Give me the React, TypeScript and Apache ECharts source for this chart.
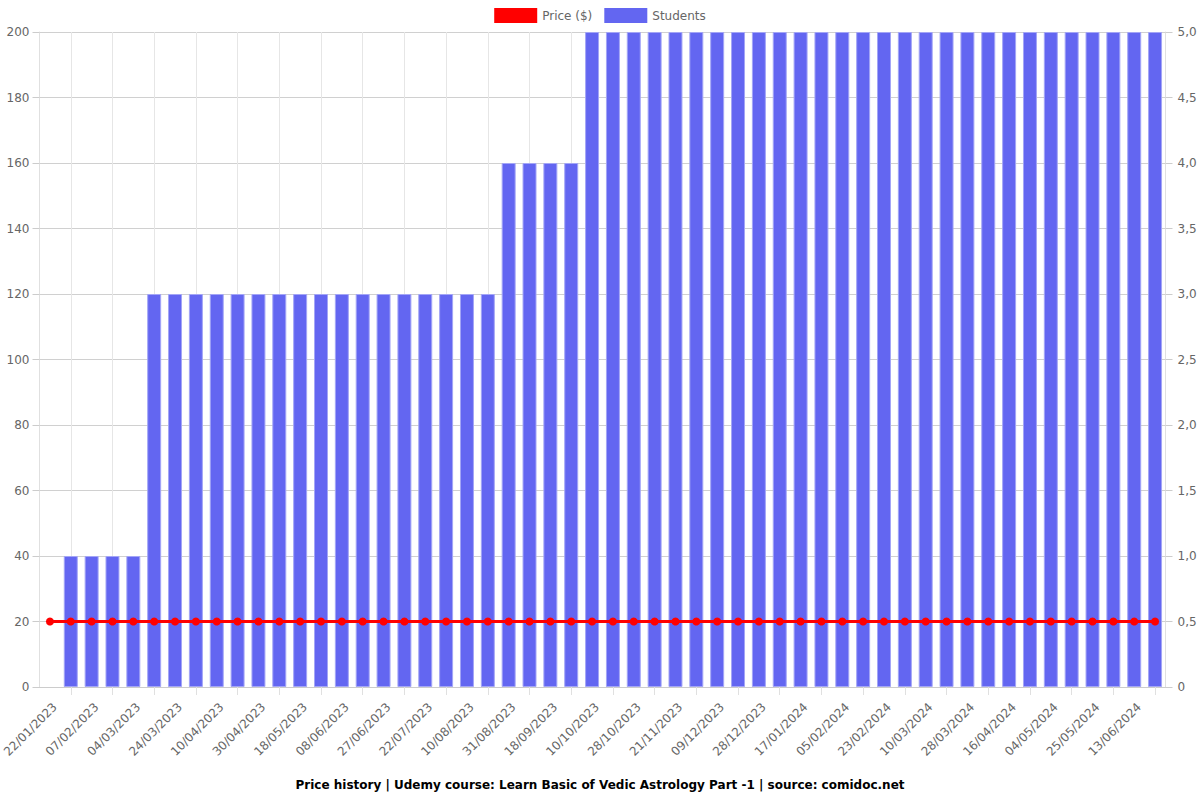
import React, { useEffect, useRef } from "react";
import * as echarts from "echarts";

const dates: string[] = [
  "22/01/2023", "30/01/2023", "07/02/2023", "20/02/2023", "04/03/2023", "14/03/2023",
  "24/03/2023", "01/04/2023", "10/04/2023", "20/04/2023", "30/04/2023", "09/05/2023",
  "18/05/2023", "28/05/2023", "08/06/2023", "17/06/2023", "27/06/2023", "09/07/2023",
  "22/07/2023", "01/08/2023", "10/08/2023", "20/08/2023", "31/08/2023", "09/09/2023",
  "18/09/2023", "29/09/2023", "10/10/2023", "19/10/2023", "28/10/2023", "09/11/2023",
  "21/11/2023", "30/11/2023", "09/12/2023", "18/12/2023", "28/12/2023", "07/01/2024",
  "17/01/2024", "26/01/2024", "05/02/2024", "14/02/2024", "23/02/2024", "02/03/2024",
  "10/03/2024", "19/03/2024", "28/03/2024", "06/04/2024", "16/04/2024", "25/04/2024",
  "04/05/2024", "14/05/2024", "25/05/2024", "03/06/2024", "13/06/2024", "22/06/2024",
];

const students: (number | null)[] = [
  null, 40, 40, 40, 40,
  120, 120, 120, 120, 120, 120, 120, 120, 120, 120, 120, 120, 120, 120, 120, 120, 120,
  160, 160, 160, 160,
  200, 200, 200, 200, 200, 200, 200, 200, 200, 200, 200, 200, 200, 200,
  200, 200, 200, 200, 200, 200, 200, 200, 200, 200, 200, 200, 200, 200,
];

const price: number[] = [
  20, 20, 20, 20, 20, 20, 20, 20, 20, 20, 20, 20, 20, 20, 20, 20, 20, 20,
  20, 20, 20, 20, 20, 20, 20, 20, 20, 20, 20, 20, 20, 20, 20, 20, 20, 20,
  20, 20, 20, 20, 20, 20, 20, 20, 20, 20, 20, 20, 20, 20, 20, 20, 20, 20,
];

const FONT = "DejaVu Sans";

export default function App() {
  const ref = useRef<HTMLDivElement>(null);
  useEffect(() => {
    if (!ref.current) return;
    const chart = echarts.init(ref.current, undefined, { renderer: "svg" });
    const odd = (i: number) => i % 2 === 1;
    chart.setOption({
      animation: false,
      textStyle: { fontFamily: FONT },
      title: {
        text: "Price history | Udemy course: Learn Basic of Vedic Astrology Part -1 | source: comidoc.net",
        left: "center",
        bottom: 4,
        textStyle: { fontSize: 12, fontWeight: "bold", color: "#000", fontFamily: FONT },
      },
      legend: {
        top: 8,
        left: "center",
        itemWidth: 43,
        itemHeight: 15,
        itemGap: 12,
        icon: "rect",
        padding: 0,
        textStyle: { fontSize: 12, color: "#666", fontFamily: FONT },
        data: [
          { name: "Price ($)", itemStyle: { color: "#ff0000", borderWidth: 0 } },
          { name: "Students", itemStyle: { color: "#6366f1", borderWidth: 0 } },
        ],
      },
      grid: {
        left: 39.5,
        right: 34.5,
        top: 32,
        bottom: 113,
        containLabel: false,
        outerBoundsMode: "none",
      },
      xAxis: {
        type: "category",
        data: dates,
        boundaryGap: true,
        axisLine: { show: true, lineStyle: { color: "#ccc" } },
        axisTick: { show: true, alignWithLabel: true, interval: odd, length: 8, lineStyle: { color: "#e0e0e0" } },
        splitLine: { show: true, interval: odd, alignWithLabel: true, lineStyle: { color: "#e6e6e6" } },
        axisLabel: {
          interval: 1,
          rotate: 45,
          fontSize: 12,
          color: "#666",
          margin: 13,
          verticalAlign: "top",
          padding: [1, 0, 0, 0],
          fontFamily: FONT,
        },
      },
      yAxis: [
        {
          type: "value",
          min: 0,
          max: 200,
          interval: 20,
          axisLine: { show: true, lineStyle: { color: "#e0e0e0" } },
          axisTick: { show: true, length: 7, lineStyle: { color: "#ccc" } },
          splitLine: { show: true, lineStyle: { color: "#d0d0d0" } },
          axisLabel: { fontSize: 12, color: "#666", margin: 10, fontFamily: FONT },
        },
        {
          type: "value",
          min: 0,
          max: 5,
          interval: 0.5,
          position: "right",
          axisLine: { show: true, lineStyle: { color: "#e0e0e0" } },
          axisTick: { show: true, length: 7, lineStyle: { color: "#ccc" } },
          splitLine: { show: false },
          axisLabel: {
            fontSize: 12,
            color: "#666",
            margin: 12,
            fontFamily: FONT,
            formatter: (v: number) => (v === 0 ? "0" : v.toFixed(1).replace(".", ",")),
          },
        },
      ],
      series: [
        {
          name: "Students",
          type: "bar",
          yAxisIndex: 0,
          data: students,
          barCategoryGap: "33%",
          itemStyle: { color: "#6366f1", borderColor: "#a3a5f6", borderWidth: 1 },
          z: 2,
        },
        {
          name: "Price ($)",
          type: "line",
          yAxisIndex: 0,
          data: price,
          symbol: "circle",
          symbolSize: 8,
          lineStyle: { color: "#ff0000", width: 3 },
          itemStyle: { color: "#ff0000" },
          z: 3,
        },
      ],
    });
    return () => chart.dispose();
  }, []);
  return (
    <div
      ref={ref}
      style={{ position: "absolute", left: 0, top: 0, width: 1200, height: 800 }}
    />
  );
}
